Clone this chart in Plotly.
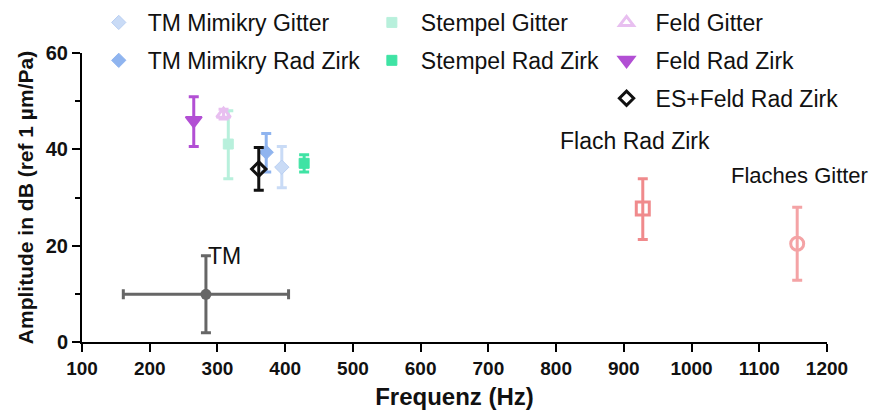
import plotly.graph_objects as go

# Legend series
names = ["TM Mimikry Gitter", "TM Mimikry Rad Zirk", "Stempel Gitter", "Stempel Rad Zirk",
         "Feld Gitter", "Feld Rad Zirk", "ES+Feld Rad Zirk"]
freq = [395, 372, 316, 428, 309, 265, 361]
amp = [36.3, 39.4, 41.1, 37.1, 47.3, 46.0, 35.9]
err_plus = [4.3, 3.9, 6.9, 1.8, 1.0, 4.9, 4.5]
err_minus = [4.3, 4.1, 7.2, 1.8, 1.0, 5.4, 4.4]

# Annotated series
lab_names = ["Flach Rad Zirk", "Flaches Gitter"]
lab_freq = [928, 1156]
lab_amp = [27.7, 20.4]
lab_err_plus = [6.2, 7.6]
lab_err_minus = [6.4, 7.6]
lab_text_x = [917, 1160]
lab_text_y = [41.8, 34.5]

# TM reference
tm_freq = [283]
tm_amp = [9.9]
tm_err_y_plus = [8.0]
tm_err_y_minus = [8.0]
tm_err_x_plus = [122]
tm_err_x_minus = [122]

x_ticks = list(range(100, 1201, 100))
y_ticks = [0, 20, 40, 60]

FONT = "Liberation Sans, Arial, sans-serif"

styles = [
    dict(symbol="diamond", color="#c9dbf6", line=dict(color="#b9cff2", width=1), size=11),
    dict(symbol="diamond", color="#8fb4ef", line=dict(color="#8fb4ef", width=1), size=11),
    dict(symbol="square", color="#b8f0dc", line=dict(color="#b8f0dc", width=1), size=10),
    dict(symbol="square", color="#3fe3a4", line=dict(color="#3fe3a4", width=1), size=10),
    dict(symbol="triangle-up-open", color="#e8bff0", line=dict(color="#e8bff0", width=3), size=12),
    dict(symbol="triangle-down", color="#b24fd4", line=dict(color="#b24fd4", width=2), size=14),
    dict(symbol="diamond-open", color="#111111", line=dict(color="#111111", width=3), size=11),
]
errcol = ["#c9dbf6", "#8fb4ef", "#b8f0dc", "#3fe3a4", "#e8bff0", "#b24fd4", "#111111"]
legend_ids = ["legend", "legend", "legend2", "legend2", "legend3", "legend3", "legend3"]

fig = go.Figure()

# TM
fig.add_trace(go.Scatter(
    x=tm_freq, y=tm_amp, mode="markers", showlegend=False,
    marker=dict(symbol="circle", size=11, color="#666666"),
    error_y=dict(type="data", symmetric=False, array=tm_err_y_plus, arrayminus=tm_err_y_minus,
                 color="#666666", thickness=3, width=5),
    error_x=dict(type="data", symmetric=False, array=tm_err_x_plus, arrayminus=tm_err_x_minus,
                 color="#666666", thickness=3, width=5),
))

for i, n in enumerate(names):
    st = styles[i]
    fig.add_trace(go.Scatter(
        x=[freq[i]], y=[amp[i]], mode="markers", name=n, legend=legend_ids[i],
        legendgroup=n,
        marker=dict(symbol=st["symbol"], size=st["size"], color=st["color"], line=st["line"]),
        error_y=dict(type="data", symmetric=False, array=[err_plus[i]], arrayminus=[err_minus[i]],
                     color=errcol[i], thickness=3, width=5),
    ))

lab_styles = [dict(symbol="square-open", color="#f08a8c"), dict(symbol="circle-open", color="#f4a3a5")]
lab_sizes = [23, 22]
for i, n in enumerate(lab_names):
    fig.add_trace(go.Scatter(
        x=[lab_freq[i]], y=[lab_amp[i]], mode="markers", showlegend=False,
        marker=dict(symbol=lab_styles[i]["symbol"], size=13, color=lab_styles[i]["color"],
                    line=dict(color=lab_styles[i]["color"], width=3)),
        error_y=dict(type="data", symmetric=False, array=[lab_err_plus[i]], arrayminus=[lab_err_minus[i]],
                     color=lab_styles[i]["color"], thickness=3, width=5),
    ))
    fig.add_annotation(x=lab_text_x[i], y=lab_text_y[i], text=n, showarrow=False,
                       font=dict(size=lab_sizes[i], color="#111111", family=FONT))

fig.add_annotation(x=310, y=17.8, text="TM", showarrow=False,
                   font=dict(size=23, color="#111111", family=FONT))

leg_common = dict(font=dict(size=23, color="#111111", family=FONT),
                  bgcolor="rgba(0,0,0,0)", tracegroupgap=5, yanchor="top", xanchor="left",
                  itemwidth=48)
# page body has an 8px margin, so the figure is drawn 8px smaller
fig.update_layout(
    width=869, height=409,
    margin=dict(l=74, r=50, t=45, b=75, autoexpand=False),
    plot_bgcolor="white", paper_bgcolor="white",
    legend=dict(x=0.0104, y=1.18, **leg_common),
    legend2=dict(x=0.377, y=1.18, **leg_common),
    legend3=dict(x=0.692, y=1.18, **leg_common),
    xaxis=dict(range=[100, 1200], tickvals=x_ticks, ticks="outside", ticklen=8, tickwidth=2,
               tickcolor="black", showline=True, linecolor="black", linewidth=2, showgrid=False,
               zeroline=False, automargin=False,
               tickfont=dict(size=19, color="#111111", family=FONT, weight="bold"),
               title=dict(text="Frequenz (Hz)", standoff=10,
                          font=dict(size=24, color="#111111", family=FONT, weight="bold"))),
    yaxis=dict(range=[0, 60], tickvals=y_ticks, ticks="outside", ticklen=8, tickwidth=2,
               tickcolor="black", showline=True, linecolor="black", linewidth=2, showgrid=False,
               zeroline=False, automargin=False,
               minor=dict(tickvals=[10, 30, 50], ticks="outside", ticklen=5, tickwidth=2, tickcolor="black"),
               tickfont=dict(size=20, color="#111111", family=FONT, weight="bold"),
               title=dict(text="Amplitude in dB (ref 1 µm/Pa)", standoff=6,
                          font=dict(size=21, color="#111111", family=FONT, weight="bold"))),
)

fig.write_html("out.html")
